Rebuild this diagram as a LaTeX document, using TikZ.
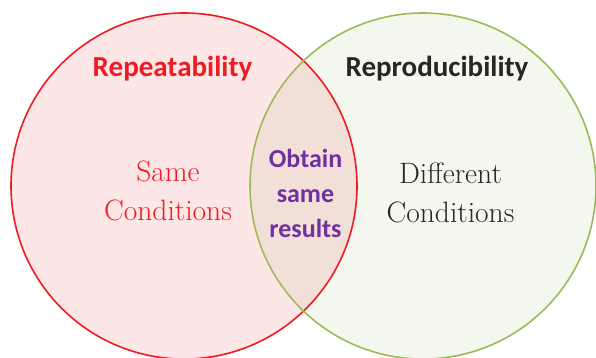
\documentclass[tikz,border=0pt]{standalone}
\usepackage{fontspec}
\newfontfamily\calibri{Carlito}
\usetikzlibrary{positioning}
\definecolor{vred}{HTML}{ED1C24}
\definecolor{vgreen}{HTML}{9BBB59}
\definecolor{vpink}{HTML}{FDE6E6}
\definecolor{vmint}{HTML}{F3F7EE}
\definecolor{vboth}{HTML}{F2E0D8}
\definecolor{vpurple}{HTML}{7030A0}
\definecolor{vblack}{HTML}{262626}

\tikzset{
 settitle/.style={font=\calibri\bfseries\fontsize{29}{35}\selectfont, anchor=base},
 setcond/.style={font=\fontsize{29.5}{38.5}\selectfont, align=center, anchor=base},
 setboth/.style={font=\calibri\bfseries\fontsize{26}{35}\selectfont, align=center, anchor=base, text=vpurple},
 ring/.style={line width=1.6pt}
}

\begin{document}
\begin{tikzpicture}[x=1pt,y=-1pt]
\useasboundingbox (0,0) rectangle (596,358);
\coordinate (L) at (184,186);
\coordinate (R) at (423,186);
\fill[vpink] (L) circle (173pt);
\fill[vmint] (R) circle (173pt);
\begin{scope}
 \clip (L) circle (173pt);
 \fill[vboth] (R) circle (173pt);
\end{scope}
\draw[vred, ring] (L) circle (173pt);
\draw[vgreen, ring] (R) circle (173pt);

% base anchor sits on the last line
\node[settitle, text=vred] (rep) at (172.5,77) {Repeatability};
\node[settitle, text=vblack] (repro) at (437,77) {Reproducibility};
\node[setcond, text=vred] (same) at (168,220) {Same\\Conditions};
\node[setcond, text=vblack] (diff) at (450.5,222) {Different\\Conditions};
\node[setboth] (obtain) at (305.5,237) {Obtain\\same\\results};
\end{tikzpicture}
\end{document}
